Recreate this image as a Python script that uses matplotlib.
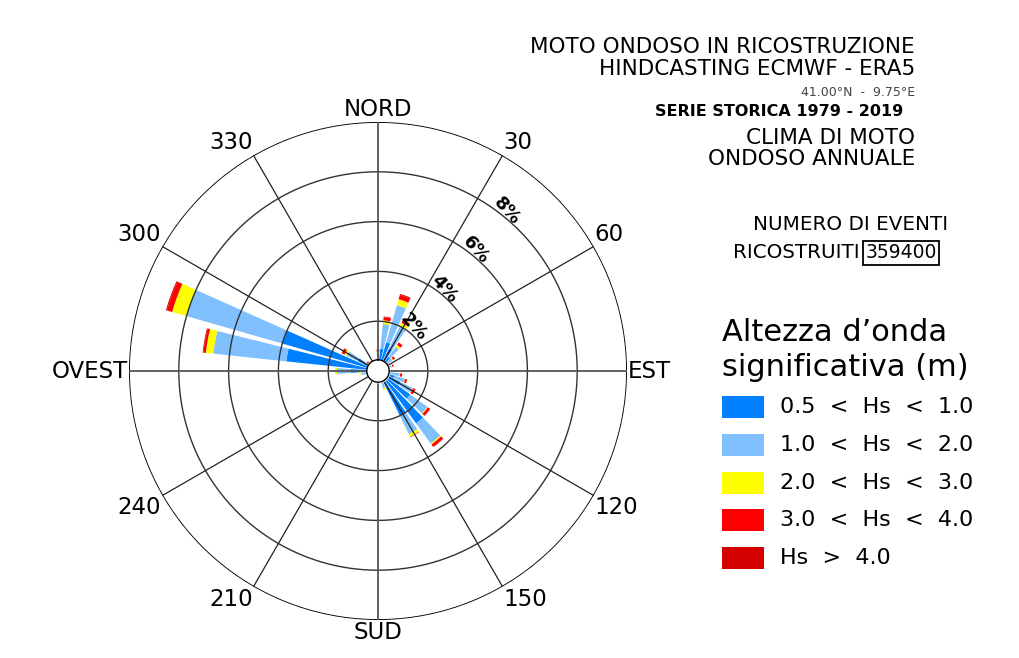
import numpy as np
import matplotlib
matplotlib.use("Agg")
import matplotlib.pyplot as plt
from matplotlib.patches import Rectangle

# ---------------- data ----------------
directions = [0, 10, 20, 30, 40, 50, 70, 90, 100, 110, 120, 130, 140, 150, 160,
              260, 270, 280, 290, 300, 310]
# frequency (%) of each Hs class per direction sector
hs_05_10 = [0.50, 0.90, 1.20, 1.00, 0.70, 0.50, 0.45, 0.45, 0.50, 0.70, 1.00, 1.60, 2.60, 2.00, 0.50,
            0.50, 1.10, 3.70, 4.00, 0.90, 0.45]
hs_10_20 = [0.22, 1.00, 1.55, 1.00, 0.50, 0.22, 0.13, 0.05, 0.38, 0.42, 0.55, 0.85, 1.00, 0.82, 0.22,
            0.16, 0.55, 2.95, 4.00, 0.50, 0.03]
hs_20_30 = [0.06, 0.15, 0.25, 0.15, 0.10, 0.04, 0.02, 0.00, 0.02, 0.02, 0.02, 0.03, 0.05, 0.12, 0.08,
            0.06, 0.08, 0.30, 0.60, 0.10, 0.02]
hs_30_40 = [0.08, 0.12, 0.18, 0.13, 0.12, 0.09, 0.06, 0.06, 0.08, 0.08, 0.11, 0.10, 0.11, 0.02, 0.00,
            0.00, 0.00, 0.10, 0.22, 0.12, 0.06]
hs_gt_40 = [0.00, 0.03, 0.04, 0.02, 0.00, 0.00, 0.00, 0.00, 0.00, 0.00, 0.00, 0.02, 0.02, 0.00, 0.00,
            0.00, 0.00, 0.03, 0.04, 0.01, 0.00]
class_labels = ["0.5  <  Hs  <  1.0", "1.0  <  Hs  <  2.0", "2.0  <  Hs  <  3.0",
                "3.0  <  Hs  <  4.0", "Hs  >  4.0"]
class_colors = ["#0080ff", "#80c0ff", "#ffff00", "#ff0000", "#d40000"]
ring_values = [2, 4, 6, 8, 10]
angle_ticks = [0, 30, 60, 90, 120, 150, 180, 210, 240, 270, 300, 330]
angle_labels = ["NORD", "30", "60", "EST", "120", "150", "SUD", "210", "240", "OVEST", "300", "330"]
n_events = "359400"

# ---------------- figure ----------------
W, H = 1019, 658
fig = plt.figure(figsize=(W / 100, H / 100), dpi=100)
plt.rcParams['font.family'] = ['DejaVu Sans']

def fx(x):
    return x / W

def fy(y):
    return 1 - y / H

cx, cy, R = 378, 371, 249
ax = fig.add_axes([fx(cx - R), fy(cy + R), 2 * R / W, 2 * R / H], projection='polar')
ax.set_theta_zero_location('N')
ax.set_theta_direction(-1)
ax.set_ylim(0, 10)
ax.grid(False)
ax.set_xticks([])
ax.set_yticks([])
ax.spines['polar'].set_visible(False)
ax.patch.set_alpha(0)

theta = np.deg2rad(directions)
width = np.deg2rad(8)
series = [hs_05_10, hs_10_20, hs_20_30, hs_30_40, hs_gt_40]
bottom = np.zeros(len(directions))
for vals, col in zip(series, class_colors):
    v = np.array(vals)
    ax.bar(theta, v, width=width, bottom=bottom, color=col, edgecolor='none',
           linewidth=0, zorder=2, align='center')
    bottom = bottom + v

# grid
tt = np.linspace(0, 2 * np.pi, 721)
hole = 0.45
for r in ring_values:
    lw = 1.3 if r == ring_values[-1] else 1.0
    col = 'black' if r == ring_values[-1] else '#333333'
    ax.plot(tt, np.full_like(tt, r), color=col, lw=lw, zorder=3)
for a in angle_ticks:
    lw = 1.3 if a % 90 == 0 else 0.9
    col = '#555555' if a % 90 == 0 else '#222222'
    ax.plot([np.deg2rad(a)] * 2, [hole, ring_values[-1]], color=col, lw=lw, zorder=3)
ax.fill_between(tt, 0, hole, color='white', zorder=4)
ax.plot(tt, np.full_like(tt, hole), color='black', lw=1.0, zorder=5)

# angle labels
rmax = ring_values[-1]
for a, lab in zip(angle_ticks, angle_labels):
    s = np.sin(np.deg2rad(a))
    c = np.cos(np.deg2rad(a))
    ha = 'center' if abs(s) < 1e-6 else ('left' if s > 0 else 'right')
    va = 'center' if abs(c) < 1e-6 else ('bottom' if c > 0 else 'top')
    ax.text(np.deg2rad(a), rmax * 1.005, lab, ha=ha, va=va, fontsize=16.5,
            color='black', zorder=6)

# ring labels
for r in ring_values[:-1]:
    ax.text(np.deg2rad(39), r + 0.25, f"{r}%", ha='center', va='center',
            rotation=-48, rotation_mode='anchor', fontsize=13, fontweight='bold',
            color='black', zorder=6)

# ---------------- header texts ----------------
xr = fx(915)
fig.text(xr, fy(47), "MOTO ONDOSO IN RICOSTRUZIONE", ha='right', va='center', fontsize=15.5)
fig.text(xr, fy(69), "HINDCASTING ECMWF - ERA5", ha='right', va='center', fontsize=15.5)
fig.text(xr, fy(92), "41.00°N  -  9.75°E", ha='right', va='center', fontsize=9, color='#444444')
fig.text(fx(903), fy(112), "SERIE STORICA 1979 - 2019", ha='right', va='center', fontsize=11.5,
         fontweight='bold')
fig.text(xr, fy(138), "CLIMA DI MOTO", ha='right', va='center', fontsize=15.5)
fig.text(xr, fy(159), "ONDOSO ANNUALE", ha='right', va='center', fontsize=15.5)
fig.text(fx(948), fy(225), "NUMERO DI EVENTI", ha='right', va='center', fontsize=14.3)
fig.text(fx(860), fy(253), "RICOSTRUITI", ha='right', va='center', fontsize=14.3)
fig.text(fx(901), fy(253), n_events, ha='center', va='center', fontsize=13.5,
         bbox=dict(boxstyle='square,pad=0.12', fc='white', ec='black', lw=1.3))

# ---------------- legend ----------------
fig.text(fx(722), fy(333), "Altezza d’onda", ha='left', va='center', fontsize=22)
fig.text(fx(722), fy(368), "significativa (m)", ha='left', va='center', fontsize=22)
y0, dy = 407, 37.8
for i, (lab, col) in enumerate(zip(class_labels, class_colors)):
    yc = y0 + i * dy
    fig.add_artist(Rectangle((fx(722), fy(yc + 11)), 42 / W, 22 / H, transform=fig.transFigure,
                             facecolor=col, edgecolor='none'))
    fig.text(fx(780), fy(yc), lab, ha='left', va='center', fontsize=16)

fig.savefig("out.png", dpi=100, facecolor='white')
